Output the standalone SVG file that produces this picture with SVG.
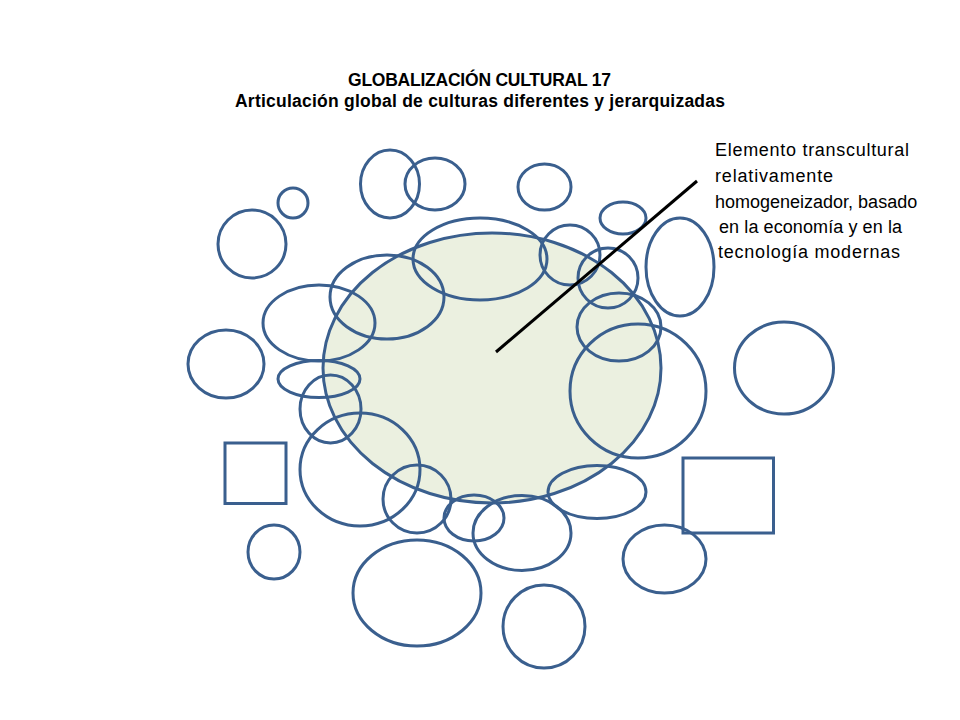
<svg xmlns="http://www.w3.org/2000/svg" width="960" height="720" viewBox="0 0 960 720">
<style>
.s{fill:none;stroke:#3A5F8E;stroke-width:3}
.t{font-family:"Liberation Sans",Arial,sans-serif;fill:#000}
.h{font-size:17.5px;font-weight:bold}
.n{font-size:18px}
</style>
<rect width="960" height="720" fill="#fff"/>
<g id="title">
<text class="t h" x="348" y="86" textLength="263" lengthAdjust="spacing">GLOBALIZACIÓN CULTURAL 17</text>
<text class="t h" x="235" y="107" textLength="490" lengthAdjust="spacing">Articulación global de culturas diferentes y jerarquizadas</text>
</g>
<g id="core">
<ellipse cx="492" cy="368" rx="169" ry="135" fill="#EBF0E0" stroke="#3A5F8E" stroke-width="3"/>
</g>
<g id="cultures">
<ellipse class="s" cx="390" cy="184" rx="29.5" ry="34"/>
<ellipse class="s" cx="435" cy="184" rx="30" ry="26"/>
<ellipse class="s" cx="293" cy="203" rx="15" ry="15"/>
<ellipse class="s" cx="252" cy="244" rx="34" ry="34"/>
<ellipse class="s" cx="544.5" cy="187" rx="26.5" ry="23"/>
<ellipse class="s" cx="623" cy="218" rx="23" ry="16"/>
<ellipse class="s" cx="480" cy="259" rx="67" ry="41"/>
<ellipse class="s" cx="387" cy="297" rx="57" ry="42"/>
<ellipse class="s" cx="319" cy="323" rx="56" ry="38"/>
<ellipse class="s" cx="570" cy="255" rx="30" ry="30"/>
<ellipse class="s" cx="608" cy="278" rx="30" ry="30"/>
<ellipse class="s" cx="680" cy="267" rx="34" ry="49"/>
<ellipse class="s" cx="619" cy="327" rx="42" ry="34"/>
<ellipse class="s" cx="638" cy="391" rx="68" ry="67"/>
<ellipse class="s" cx="784" cy="368" rx="49.5" ry="46"/>
<ellipse class="s" cx="226" cy="364" rx="38" ry="34"/>
<ellipse class="s" cx="319" cy="379" rx="41" ry="18.5"/>
<ellipse class="s" cx="330.5" cy="409" rx="30.5" ry="34"/>
<ellipse class="s" cx="360" cy="469.5" rx="60" ry="56.5"/>
<ellipse class="s" cx="417" cy="499" rx="34" ry="34"/>
<ellipse class="s" cx="474" cy="518" rx="30" ry="23"/>
<ellipse class="s" cx="522" cy="533" rx="49" ry="37.5"/>
<ellipse class="s" cx="597" cy="492" rx="49" ry="26.5"/>
<ellipse class="s" cx="274" cy="552" rx="26" ry="27"/>
<ellipse class="s" cx="417" cy="593" rx="64" ry="53"/>
<ellipse class="s" cx="544" cy="626.5" rx="41" ry="41.5"/>
<ellipse class="s" cx="664.5" cy="559" rx="41.5" ry="34"/>
<rect class="s" x="225" y="443" width="61" height="60.5"/>
<rect class="s" x="683" y="458" width="90.5" height="75"/>
</g>
<g id="connectors">
<line x1="496" y1="352" x2="697" y2="181" stroke="#000" stroke-width="3"/>
</g>
<g id="label">
<text class="t n" x="715" y="156" textLength="194" lengthAdjust="spacing">Elemento transcultural</text>
<text class="t n" x="715" y="182" textLength="118" lengthAdjust="spacing">relativamente</text>
<text class="t n" x="715" y="208">homogeneizador, basado</text>
<text class="t n" x="719" y="233" textLength="183" lengthAdjust="spacing">en la economía y en la</text>
<text class="t n" x="718" y="258" textLength="182" lengthAdjust="spacing">tecnología modernas</text>
</g>
</svg>
